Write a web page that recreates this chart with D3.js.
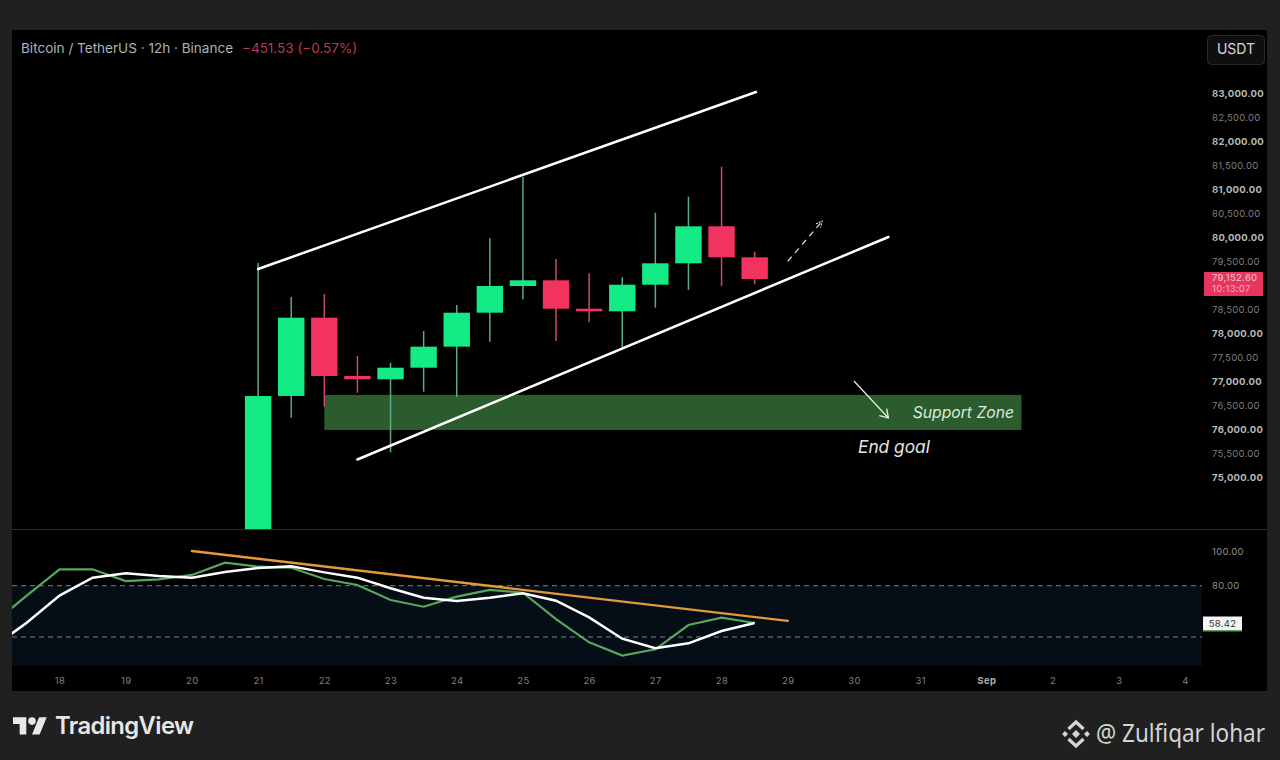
<!DOCTYPE html>
<html><head><meta charset="utf-8">
<script src="https://cdn.jsdelivr.net/npm/d3@7/dist/d3.min.js"></script>
<style>html,body{margin:0;padding:0;background:#202020;overflow:hidden}svg{display:block}text{font-family:Inter,Roboto,sans-serif}</style>
</head><body><svg id="c" width="1280" height="760"></svg>
<script>
const candleDays=[21,21.5,22,22.5,23,23.5,24,24.5,25,25.5,26,26.5,27,27.5,28,28.5];
const opens =[73000,76688,78319,77104,77035,77277,77715,78423,78979,79098,78506,78452,79006,79452,80223,79577];
const closes=[76688,78319,77104,77035,77277,77715,78423,78979,79098,78506,78452,79006,79452,80223,79577,79125];
const highs =[79458,78750,78813,77521,77381,78042,78583,79973,81250,79542,79244,79160,80506,80840,81465,79694];
const lows  =[72500,76235,76465,76756,75515,76777,76667,77819,78702,77833,78223,77646,78527,78896,78979,79015];
const oscDays=[17,17.5,18,18.5,19,19.5,20,20.5,21,21.5,22,22.5,23,23.5,24,24.5,25,25.5,26,26.5,27,27.5,28,28.5];
const oscGreen=[58.2,74,89.6,89.6,82.7,83.7,86.3,93.5,91.1,90.5,83.9,80.4,71.6,67.7,73.6,77.5,75.9,60.4,46.9,39.1,42.8,57,61.3,58.2];
const oscWhite=[44.2,58.2,74.2,84.7,87.3,85.7,84.7,88,90.4,91.3,87.8,84.7,78.5,73,71.1,73,75.6,71.2,61.5,49,43.4,46.3,53.5,58.2];
const priceTicks=[83000,82500,82000,81500,81000,80500,80000,79500,78500,78000,77500,77000,76500,76000,75500,75000];
const oscTicks=[100,80];
const timeTicks=[18,19,20,21,22,23,24,25,26,27,28,29,30,31,32,33,34,35];
const timeLabels=["18","19","20","21","22","23","24","25","26","27","28","29","30","31","Sep","2","3","4"];
const channelUpper=[[21,79333],[28.52,83020]];
const channelLower=[[22.5,75365],[30.52,80000]];
const supportZone={from:22,to:32.53,top:76710,bottom:75980};
const arrowUp=[[29,79495],[29.52,80330]];
const arrowDown=[[30,77000],[30.52,76230]];
const oscTrend=[[20,100.3],[29,59.4]];
const lastPrice="79,152.60", countdown="10:13:07", lastOsc="58.42";

const svg=d3.select("#c");
const x=d3.scaleLinear().domain([18,35]).range([59.5,1185]);
const y=d3.scaleLinear().domain([83000,75000]).range([93,477]);
const yo=d3.scaleLinear().domain([100,80]).range([551.5,585.7]);

const defs=svg.append("defs");
defs.append("clipPath").attr("id","mainClip").append("rect").attr("x",12).attr("y",30).attr("width",1190).attr("height",499);
defs.append("clipPath").attr("id","oscClip").append("rect").attr("x",12).attr("y",530).attr("width",1190).attr("height",138);
const mk=defs.append("marker").attr("id","ah").attr("viewBox","0 0 12 12").attr("refX",10).attr("refY",6).attr("markerWidth",12).attr("markerHeight",12).attr("markerUnits","userSpaceOnUse").attr("orient","auto");
mk.append("path").attr("d","M2 1L10 6L2 11").attr("fill","none").attr("stroke","#e8e8e8").attr("stroke-width",1.3);
const mk2=defs.append("marker").attr("id","ah2").attr("viewBox","0 0 8 8").attr("refX",7).attr("refY",4).attr("markerWidth",8).attr("markerHeight",8).attr("markerUnits","userSpaceOnUse").attr("orient","auto");
mk2.append("path").attr("d","M1 1L7 4L1 7").attr("fill","none").attr("stroke","#d8d8d8").attr("stroke-width",1.1).attr("stroke-dasharray","2 1");

// frame
svg.append("rect").attr("x",12).attr("y",30).attr("width",1255).attr("height",661).attr("fill","#000");
svg.append("line").attr("x1",12).attr("x2",1267).attr("y1",529.5).attr("y2",529.5).attr("stroke","#2b2d33").attr("stroke-width",1);

// main pane
const main=svg.append("g").attr("clip-path","url(#mainClip)");
main.append("rect").attr("x",x(supportZone.from)).attr("width",x(supportZone.to)-x(supportZone.from))
 .attr("y",y(supportZone.top)).attr("height",y(supportZone.bottom)-y(supportZone.top)).attr("fill","#2b5c2e");
const GREEN="#14ea85",RED="#f2325f",GW="#5aab88",RW="#cc4c64";
const idx=d3.range(candleDays.length);
main.selectAll(".w").data(idx).join("line").attr("x1",i=>x(candleDays[i])).attr("x2",i=>x(candleDays[i]))
 .attr("y1",i=>y(highs[i])).attr("y2",i=>y(lows[i])).attr("stroke-width",1.5)
 .attr("stroke",i=>closes[i]>=opens[i]?GW:RW);
main.selectAll(".b").data(idx).join("rect").attr("x",i=>x(candleDays[i])-13.2).attr("width",26.4)
 .attr("y",i=>y(Math.max(opens[i],closes[i]))).attr("height",i=>Math.max(1,Math.abs(y(opens[i])-y(closes[i]))))
 .attr("fill",i=>closes[i]>=opens[i]?GREEN:RED);
const seg=(g,p,a)=>g.append("line").attr("x1",x(p[0][0])).attr("y1",(a||y)(p[0][1])).attr("x2",x(p[1][0])).attr("y2",(a||y)(p[1][1]));
seg(main,channelUpper).attr("stroke","#fff").attr("stroke-width",2.5).attr("stroke-linecap","round");
seg(main,channelLower).attr("stroke","#fff").attr("stroke-width",2.5).attr("stroke-linecap","round");
seg(main,arrowUp).attr("stroke","#d8d8d8").attr("stroke-width",1.3).attr("stroke-dasharray","6 5").attr("marker-end","url(#ah2)");
seg(main,arrowDown).attr("stroke","#e8e8e8").attr("stroke-width",1.3).attr("marker-end","url(#ah)");
main.append("text").attr("x",1014).attr("y",418).attr("text-anchor","end").attr("font-size",15.7).attr("font-style","italic").attr("fill","#dfe8df").text("Support Zone");
main.append("text").attr("x",858).attr("y",453).attr("font-size",17.3).attr("font-style","italic").attr("fill","#e6e6e6").text("End goal");

// header
svg.append("text").attr("x",21).attr("y",53).attr("font-size",13.55).attr("fill","#aeb0b6").text("Bitcoin / TetherUS · 12h · Binance");
svg.append("text").attr("x",242).attr("y",53).attr("font-size",13.5).attr("fill","#b83a52").text("−451.53 (−0.57%)");
svg.append("rect").attr("x",1207.5).attr("y",35.5).attr("width",57).attr("height",29).attr("rx",4).attr("fill","#0f0f0f").attr("stroke","#2a2a2a");
svg.append("text").attr("x",1236).attr("y",54).attr("text-anchor","middle").attr("font-size",14).attr("fill","#d8d8d8").text("USDT");

// price axis
const fmt=d3.format(",.2f");
const pa=svg.append("g").attr("transform","translate(1212,0)").call(d3.axisRight(y).tickValues(priceTicks).tickFormat(fmt).tickSize(0).tickPadding(0));
pa.select(".domain").remove();
pa.selectAll("text").attr("font-size",9.5).attr("style","font-family:Inter,Roboto,sans-serif;letter-spacing:.25px")
 .attr("font-weight",d=>d%1000===0?700:400).attr("fill",d=>d%1000===0?"#b8b8b8":"#7f7f7f");

svg.append("rect").attr("x",1204).attr("y",272).attr("width",59).attr("height",24).attr("fill","#e8355f").attr("rx",1);
svg.append("text").attr("x",1212).attr("y",281).attr("font-size",9.5).attr("style","letter-spacing:.3px").attr("fill","#f5c6d0").text(lastPrice);
svg.append("text").attr("x",1212).attr("y",292).attr("font-size",9.5).attr("style","letter-spacing:.3px").attr("fill","#f5b0c0").text(countdown);

// osc pane
const osc=svg.append("g").attr("clip-path","url(#oscClip)");
osc.append("rect").attr("x",12).attr("width",1190).attr("y",yo(80)).attr("height",666-yo(80)).attr("fill","#050e17");
[80,50].forEach(v=>osc.append("line").attr("x1",12).attr("x2",1202).attr("y1",yo(v)).attr("y2",yo(v)).attr("stroke","#7a8188").attr("stroke-width",1).attr("stroke-dasharray","5 4"));
const ln=d3.line().x((d,i)=>x(oscDays[i])).y(d=>yo(d));
osc.append("path").attr("d",ln(oscGreen)).attr("fill","none").attr("stroke","#55a85c").attr("stroke-width",2.2);
osc.append("path").attr("d",ln(oscWhite)).attr("fill","none").attr("stroke","#fff").attr("stroke-width",2.5);
seg(osc,oscTrend,yo).attr("stroke","#e6993a").attr("stroke-width",2.4).attr("stroke-linecap","round");

const oa=svg.append("g").attr("transform","translate(1212,0)").call(d3.axisRight(yo).tickValues(oscTicks).tickFormat(d3.format(".2f")).tickSize(0).tickPadding(0));
oa.select(".domain").remove();
oa.selectAll("text").attr("font-size",9.5).attr("style","font-family:Inter,Roboto,sans-serif;letter-spacing:.3px").attr("fill","#8f8f8f");
svg.append("rect").attr("x",1203).attr("y",616.5).attr("width",39).attr("height",14.5).attr("fill","#f4f4f4");
svg.append("rect").attr("x",1203).attr("y",630).attr("width",39).attr("height",1.5).attr("fill","#55a85c");
svg.append("text").attr("x",1222.5).attr("y",626.8).attr("text-anchor","middle").attr("font-size",9.5).attr("style","letter-spacing:.3px").attr("fill","#333").text(lastOsc);

// time axis
const ta=svg.append("g").attr("transform","translate(0,680)").call(d3.axisBottom(x).tickValues(timeTicks).tickFormat((d,i)=>timeLabels[i]).tickSize(0).tickPadding(0));
ta.select(".domain").remove();
ta.selectAll("text").attr("dy","0").attr("y",4).attr("font-size",9.5).attr("style","font-family:Inter,Roboto,sans-serif;letter-spacing:.4px")
 .attr("font-weight",d=>d===32?700:400).attr("fill",d=>d===32?"#b0b0b0":"#808080");

// footer
const tv=svg.append("g").attr("transform","translate(13,713.5) scale(.95)").attr("fill","#e8e8e8");
tv.append("path").attr("d","M14 22H7V11H0V4h14v18zM28 22h-8l7.5-18h8L28 22z");
tv.append("circle").attr("cx",20).attr("cy",8).attr("r",4);
svg.append("text").attr("x",55).attr("y",734).attr("font-size",23.8).attr("font-weight",600).attr("style","letter-spacing:-.6px").attr("fill","#e6e6e6").text("TradingView");
const bn=svg.append("g").attr("transform","translate(1076,734)").attr("fill","none").attr("stroke","#d6d6d6").attr("stroke-width",3.2);
bn.append("path").attr("d","M-7.5 -5L0 -12L7.5 -5");
bn.append("path").attr("d","M-7.5 5L0 12L7.5 5");
bn.append("path").attr("d","M-4 0L0 -4L4 0L0 4Z").attr("fill","#d6d6d6").attr("stroke","none");
bn.append("path").attr("d","M-14 0L-11 -3L-8 0L-11 3Z M14 0L11 -3L8 0L11 3Z").attr("fill","#d6d6d6").attr("stroke","none");
svg.append("text").attr("transform","translate(1096,742) scale(.9,1)").attr("font-size",25).attr("style","font-family:'Noto Sans',sans-serif").attr("fill","#d4d4d4").text("@ Zulfiqar lohar");
</script></body></html>
